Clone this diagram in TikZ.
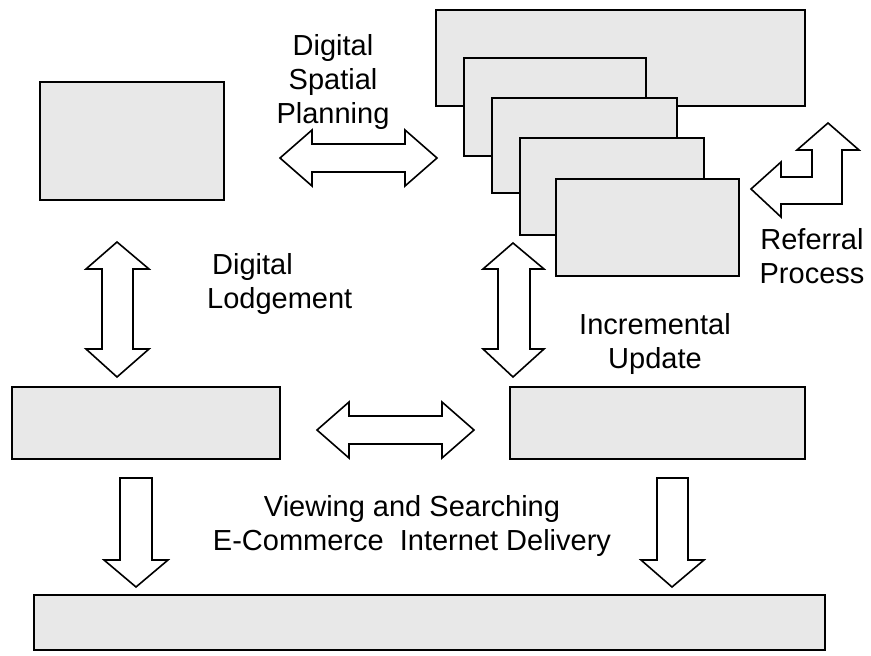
\documentclass[tikz,border=0pt]{standalone}
\usepackage{fontspec}
\setmainfont{Liberation Sans}
\begin{document}
\begin{tikzpicture}[x=1pt,y=-1pt,
  box/.style={draw=black,fill=boxgray,line width=2.6pt,inner sep=0pt,outer sep=0pt},
  blockarrow/.style={draw=black,fill=white,line width=1.6pt,line join=miter},
  label/.style={align=center,font=\fontsize{29}{34}\selectfont,inner sep=0pt}]
\definecolor{boxgray}{HTML}{E8E8E8}
\useasboundingbox (0,0) rectangle (871,656);

% boxes, given by their corners
\newcommand{\boxat}[5]{\node[box,minimum width={#4-#2},minimum height={#5-#3}] (#1) at ({(#2+#4)/2},{(#3+#5)/2}) {};}
\boxat{plan}{40}{82}{224}{200}
\boxat{agency}{436}{10}{805}{106}
\boxat{refA}{464}{58}{646}{156}
\boxat{refB}{492}{98}{677}{193}
\boxat{refC}{520}{138}{704}{235}
\boxat{refD}{556}{179}{739}{276}
\boxat{lodge}{12}{387}{280}{459}
\boxat{update}{510}{387}{805}{459}
\boxat{deliver}{34}{595}{825}{650}

% horizontal double arrow between plan and agency stack
\draw[blockarrow] (280,158) -- (312,130) -- (312,144) -- (405,144) -- (405,130) -- (437,158)
  -- (405,186) -- (405,172) -- (312,172) -- (312,186) -- cycle;
% vertical double arrow between plan and lodge
\draw[blockarrow] (117,242) -- (149,269) -- (133,269) -- (133,349) -- (149,349) -- (117,377)
  -- (86,349) -- (102,349) -- (102,269) -- (86,269) -- cycle;
% vertical double arrow between stack and update
\draw[blockarrow] (513,243) -- (544,269) -- (530,269) -- (530,349) -- (544,349) -- (513,377)
  -- (483,349) -- (498,349) -- (498,269) -- (483,269) -- cycle;
% horizontal double arrow between lodge and update
\draw[blockarrow] (317,430) -- (349,402) -- (349,416) -- (442,416) -- (442,402) -- (474,430)
  -- (442,458) -- (442,444) -- (349,444) -- (349,458) -- cycle;
% down arrows into delivery
\draw[blockarrow] (120,478) -- (152,478) -- (152,560) -- (168,560) -- (136,587)
  -- (104,560) -- (120,560) -- cycle;
\draw[blockarrow] (657,478) -- (688,478) -- (688,560) -- (704,560) -- (672,587)
  -- (641,560) -- (657,560) -- cycle;
% bent referral arrow
\draw[blockarrow] (828,123) -- (859,150) -- (842,150) -- (842,204) -- (781,204) -- (781,217)
  -- (751,189) -- (781,162) -- (781,177) -- (812,177) -- (812,150) -- (797,150) -- cycle;

% labels
\node[label] (tDSP) at (333,82) {Digital\\Spatial\\Planning};
\node[label,align=left,anchor=west] (tDL) at (207,284) {\hspace{5pt}Digital\\Lodgement};
\node[label] (tIU) at (655,344) {Incremental\\Update};
\node[label] (tRP) at (812,256) {Referral\\Process};
\node[label] (tVS) at (412,526) {Viewing and Searching\\E-Commerce\ \ Internet Delivery};
\end{tikzpicture}
\end{document}
